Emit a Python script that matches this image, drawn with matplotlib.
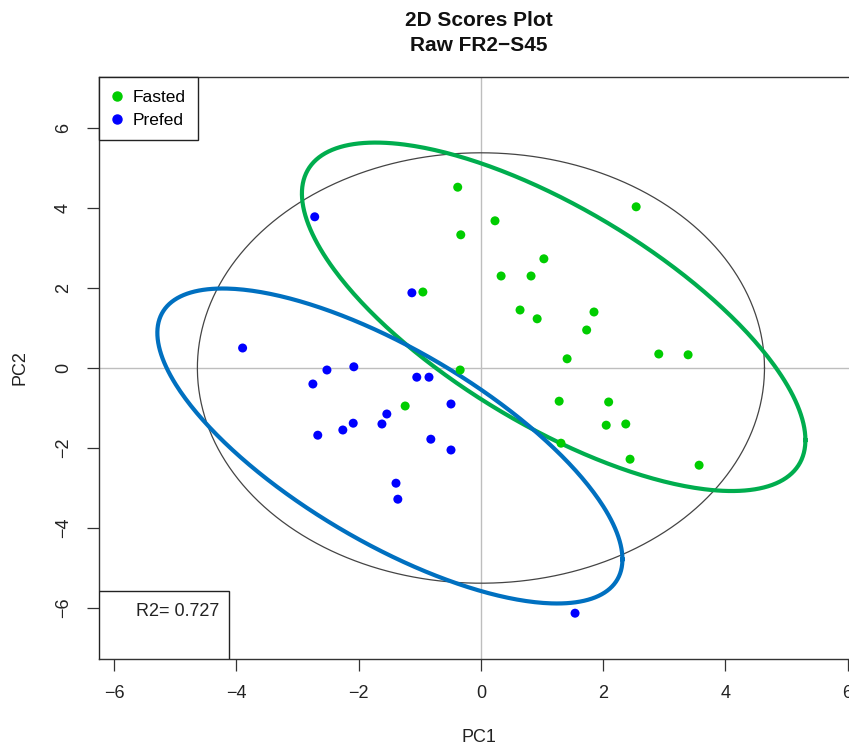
import numpy as np
import matplotlib
matplotlib.use("Agg")
import matplotlib.pyplot as plt
from matplotlib.patches import Rectangle
from matplotlib.lines import Line2D

plt.rcParams['font.family'] = ['Liberation Sans', 'DejaVu Sans']

# ---- data ----
fasted_pc1 = [-0.38, -0.33, 0.23, 2.54, -0.95, 1.03, 0.33, 0.82, 0.64, 0.92, 1.85, 1.73,
              1.41, 2.91, 3.39, -0.34, -1.24, 1.28, 2.09, 2.05, 2.37, 1.31, 2.44, 3.57]
fasted_pc2 = [4.52, 3.33, 3.68, 4.03, 1.90, 2.73, 2.30, 2.30, 1.45, 1.23, 1.40, 0.95,
              0.23, 0.35, 0.33, -0.05, -0.95, -0.83, -0.85, -1.43, -1.40, -1.88, -2.28, -2.43]
prefed_pc1 = [-2.72, -1.13, -3.90, -2.52, -2.08, -2.75, -1.05, -0.85, -0.49, -1.54,
              -1.62, -2.09, -2.26, -2.67, -0.82, -0.49, -1.39, -1.36, 1.54]
prefed_pc2 = [3.78, 1.88, 0.50, -0.05, 0.03, -0.40, -0.23, -0.23, -0.90, -1.15,
              -1.40, -1.38, -1.55, -1.68, -1.78, -2.05, -2.88, -3.28, -6.13]

# 95% ellipses: centre and shape matrix (x-var, y-var, covariance)
fasted_ell_center = [1.19, 1.28]
fasted_ell_shape = [[16.97, -12.69], [-12.69, 18.97]]
prefed_ell_center = [-1.49, -1.95]
prefed_ell_shape = [[14.48, -10.77], [-10.77, 15.50]]
# Hotelling ellipse for all samples (semi-axes)
hotelling_axes = [4.64, 5.38]

group_names = ["Fasted", "Prefed"]
r2_text = "R2= 0.727"
x_ticks = [-6, -4, -2, 0, 2, 4, 6]
y_ticks = [-6, -4, -2, 0, 2, 4, 6]

# ---- figure ----
W, H = 849, 751
fig = plt.figure(figsize=(W / 100, H / 100), dpi=100)
left, right, top, bottom = 99, 858, 77, 659
ax = fig.add_axes([left / W, (H - bottom) / H, (right - left) / W, (bottom - top) / H])
ax.set_xlim(-6.25, (right - 481) / 61.1)
ax.set_ylim(-7.275, 7.275)

ax.axhline(0, color='#BEBEBE', lw=1, zorder=1)
ax.axvline(0, color='#BEBEBE', lw=1, zorder=1)

t = np.linspace(0, 2 * np.pi, 400)
circ = np.vstack([np.cos(t), np.sin(t)])

# Hotelling ellipse
ax.plot(hotelling_axes[0] * circ[0], hotelling_axes[1] * circ[1], color='#444444', lw=0.9, zorder=2)


def draw_ellipse(center, shape, color):
    L = np.linalg.cholesky(np.array(shape))
    pts = L @ circ
    ax.plot(pts[0] + center[0], pts[1] + center[1], color=color, lw=3.0, zorder=3)


draw_ellipse(fasted_ell_center, fasted_ell_shape, '#00AD4E')
draw_ellipse(prefed_ell_center, prefed_ell_shape, '#0070C0')

green_pt = '#00CD00'
blue_pt = '#0000FF'
ax.scatter(fasted_pc1, fasted_pc2, s=42, color=green_pt, edgecolors='none', zorder=4)
ax.scatter(prefed_pc1, prefed_pc2, s=42, color=blue_pt, edgecolors='none', zorder=4)

ax.set_xticks(x_ticks)
ax.set_yticks(y_ticks)
ax.set_xticklabels([str(v).replace('-', '\u2212') for v in x_ticks])
ax.set_yticklabels([str(v).replace('-', '\u2212') for v in y_ticks], rotation=90, va='center')
ax.tick_params(direction='out', length=8.5, width=0.9, labelsize=13, color='#333333',
               labelcolor='#222222')
ax.tick_params(axis='x', pad=10)
ax.tick_params(axis='y', pad=11)
for s in ax.spines.values():
    s.set_color('#333333')
    s.set_linewidth(1.0)

ax.set_xlabel('PC1', fontsize=13, labelpad=20, color='#222222')
ax.set_ylabel('PC2', fontsize=13, labelpad=19, color='#222222')
ax.set_title('2D Scores Plot\nRaw FR2\u2212S45', fontsize=15, fontweight='bold', pad=19,
             linespacing=1.4, color='#111111')

# legend
handles = [Line2D([], [], marker='o', ls='none', color=green_pt, markersize=6.5),
           Line2D([], [], marker='o', ls='none', color=blue_pt, markersize=6.5)]
leg = ax.legend(handles, group_names, loc='upper left', bbox_to_anchor=(0, 1),
                borderaxespad=0, fancybox=False, framealpha=1, edgecolor='#222222',
                fontsize=12.5, handlelength=0.6, handletextpad=0.6, borderpad=0.72,
                labelspacing=0.45)
leg.get_frame().set_linewidth(1.0)

# R2 box
box_w, box_h = 130 / (right - left), 68 / (bottom - top)
ax.add_patch(Rectangle((0, 0), box_w, box_h, transform=ax.transAxes, fill=True,
                       facecolor='white', edgecolor='#222222', lw=1.0, zorder=5))
ax.text((219 - left) / (right - left), (bottom - 612) / (bottom - top), r2_text,
        transform=ax.transAxes, ha='right', va='center', fontsize=13, color='#222222', zorder=6)

fig.savefig('out.png', dpi=100)
